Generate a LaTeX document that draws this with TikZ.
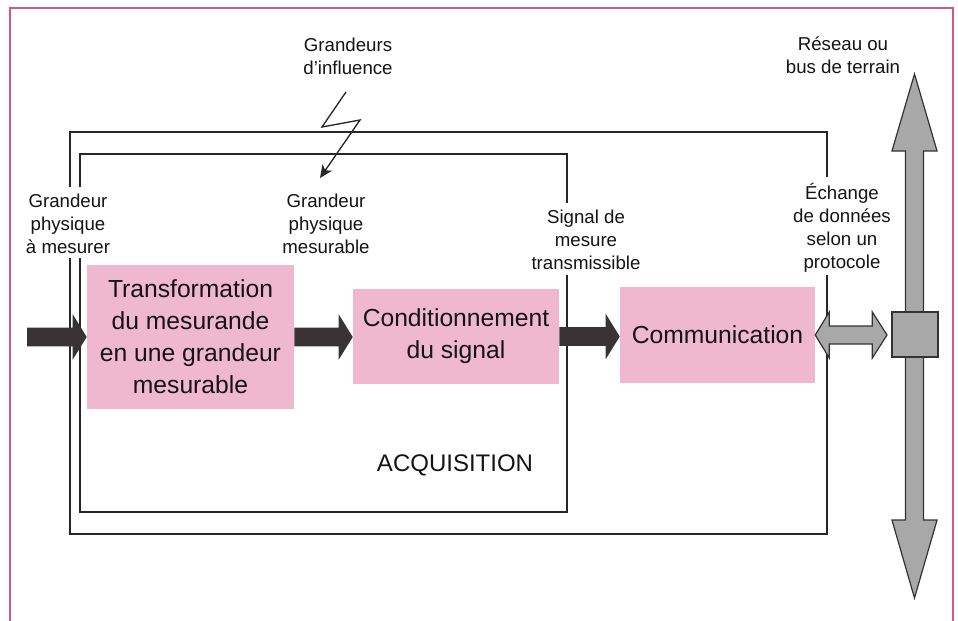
\documentclass[tikz,border=0pt]{standalone}
\usepackage{fontspec}
\setmainfont{Liberation Sans}
\usetikzlibrary{arrows.meta,calc}

\definecolor{framepink}{RGB}{214,86,136}
\definecolor{boxpink}{RGB}{239,184,207}
\definecolor{arrowdark}{RGB}{58,51,53}
\definecolor{busgray}{RGB}{168,168,168}

% horizontal block arrow from #2 to the tip #3 (same height as #2)
\newcommand\flowarrow[3]{%
  \path[#1] let \p1=(#2), \p2=(#3) in
    (\x1,\y1+7pt) -- (\x2-10.5pt,\y1+7pt) -- (\x2-10.5pt,\y1+17pt) -- (\x2,\y1)
    -- (\x2-10.5pt,\y1-17pt) -- (\x2-10.5pt,\y1-7pt) -- (\x1,\y1-7pt) -- cycle;}

% horizontal two-headed block arrow between the tips #2 and #3
\newcommand\exchangearrow[3]{%
  \path[#1] let \p1=(#2), \p2=(#3) in
    (\x1,\y1) -- (\x1+10.5pt,\y1+17.25pt) -- (\x1+10.5pt,\y1+6.75pt)
    -- (\x2-11pt,\y1+6.75pt) -- (\x2-11pt,\y1+17.25pt) -- (\x2,\y1)
    -- (\x2-11pt,\y1-17.25pt) -- (\x2-11pt,\y1-6.75pt)
    -- (\x1+10.5pt,\y1-6.75pt) -- (\x1+10.5pt,\y1-17.25pt) -- cycle;}

% vertical two-headed block arrow between the tips #2 (top) and #3 (bottom)
\newcommand\busarrow[3]{%
  \path[#1] let \p1=(#2), \p2=(#3) in
    (\x1,\y1) -- (\x1+16.9pt,\y1-57.75pt) -- (\x1+6.75pt,\y1-57.75pt)
    -- (\x1+6.75pt,\y2+58.5pt) -- (\x1+16.9pt,\y2+58.5pt) -- (\x1,\y2)
    -- (\x1-16.9pt,\y2+58.5pt) -- (\x1-6.75pt,\y2+58.5pt)
    -- (\x1-6.75pt,\y1-57.75pt) -- (\x1-16.9pt,\y1-57.75pt) -- cycle;}

\tikzset{
  frameline/.style={draw=black!85, line width=1.1pt},
  stage/.style={fill=boxpink, draw=none, inner sep=0pt, align=center,
    font=\fontsize{18.5}{24}\selectfont, text=black!92},
  lbl/.style={align=center, inner sep=0pt, font=\fontsize{14}{17.25}\selectfont, text=black!92},
  darkflow/.style={fill=arrowdark},
  grayflow/.style={fill=busgray, draw=black!80, line width=0.9pt, line join=miter},
}

\begin{document}
\begin{tikzpicture}[x=0.75pt,y=-0.75pt]
  \useasboundingbox (0,0) rectangle (958,621);
  \fill[white] (0,0) rectangle (958,621);

  % page frame, open at the bottom
  \draw[framepink, line width=1.5pt] (10,621) -- (10,8) -- (953,8) -- (953,621);

  % corners of the two enclosing frames
  \coordinate (o1) at (70,132);  \coordinate (o2) at (827,132);
  \coordinate (o3) at (827,534); \coordinate (o4) at (70,534);
  \coordinate (i1) at (80,154);  \coordinate (i2) at (567,154);
  \coordinate (i3) at (567,512); \coordinate (i4) at (80,512);

  % outer frame (measurement chain) with openings for the labels
  \draw[frameline] (70,187) -- (o1) -- (o2) -- (827,177);
  \draw[frameline] (827,275) -- (o3) -- (o4) -- (70,258);
  % inner frame (acquisition)
  \draw[frameline] (80,187) -- (i1) -- (i2) -- (567,203);
  \draw[frameline] (567,275) -- (i3) -- (i4) -- (80,258);

  % stages
  \node[stage, minimum width=155.25pt, minimum height=108pt] (trans) at (190.5,337)
    {Transformation\\du mesurande\\en une grandeur\\mesurable};
  \node[stage, minimum width=154.5pt, minimum height=71.25pt] (cond) at (456,336.5)
    {Conditionnement\\du signal};
  \node[stage, minimum width=146.25pt, minimum height=72pt] (comm) at (717.5,335)
    {Communication};

  % labels
  \node[lbl] (influence) at (348,56) {Grandeurs\\d’influence};
  \node[lbl] (gin) at (68,224) {Grandeur\\physique\\à mesurer};
  \node[lbl] (gmes) at (326,224) {Grandeur\\physique\\mesurable};
  \node[lbl] (sig) at (586,240) {Signal de\\mesure\\transmissible};
  \node[lbl] (exch) at (842,228) {Échange\\de données\\selon un\\protocole};
  \node[lbl] (bus) at (843,55) {Réseau ou\\bus de terrain};
  \node[lbl, font=\fontsize{18}{22}\selectfont] (acq) at (455,465) {ACQUISITION};

  % signal flow
  \coordinate (input) at (27,337);
  \flowarrow{darkflow}{input}{trans.west}
  \flowarrow{darkflow}{trans.east}{cond.west}
  \flowarrow{darkflow}{cond.east}{comm.west}

  % field bus with its connection point
  \coordinate (bustop) at (914.5,74);
  \coordinate (busbot) at (914.5,598);
  \busarrow{grayflow}{bustop}{busbot}
  \node[fill=busgray, draw=black!80, line width=0.9pt, minimum width=34.5pt,
        minimum height=33.75pt, inner sep=0pt] (port) at (915,334.5) {};
  \coordinate (portin) at (887,335);
  \exchangearrow{grayflow}{comm.east}{portin}

  % influence quantities acting on the measurand
  \coordinate (z0) at (346,92);
  \coordinate (z1) at (322,127);
  \coordinate (z2) at (360,120);
  \coordinate (z3) at (320,178);
  \draw[black!85, line width=1pt, line join=miter,
        -{Stealth[length=9.5pt,width=8.5pt,inset=2.5pt]}]
    (z0) -- (z1) -- (z2) -- (z3);
\end{tikzpicture}
\end{document}
